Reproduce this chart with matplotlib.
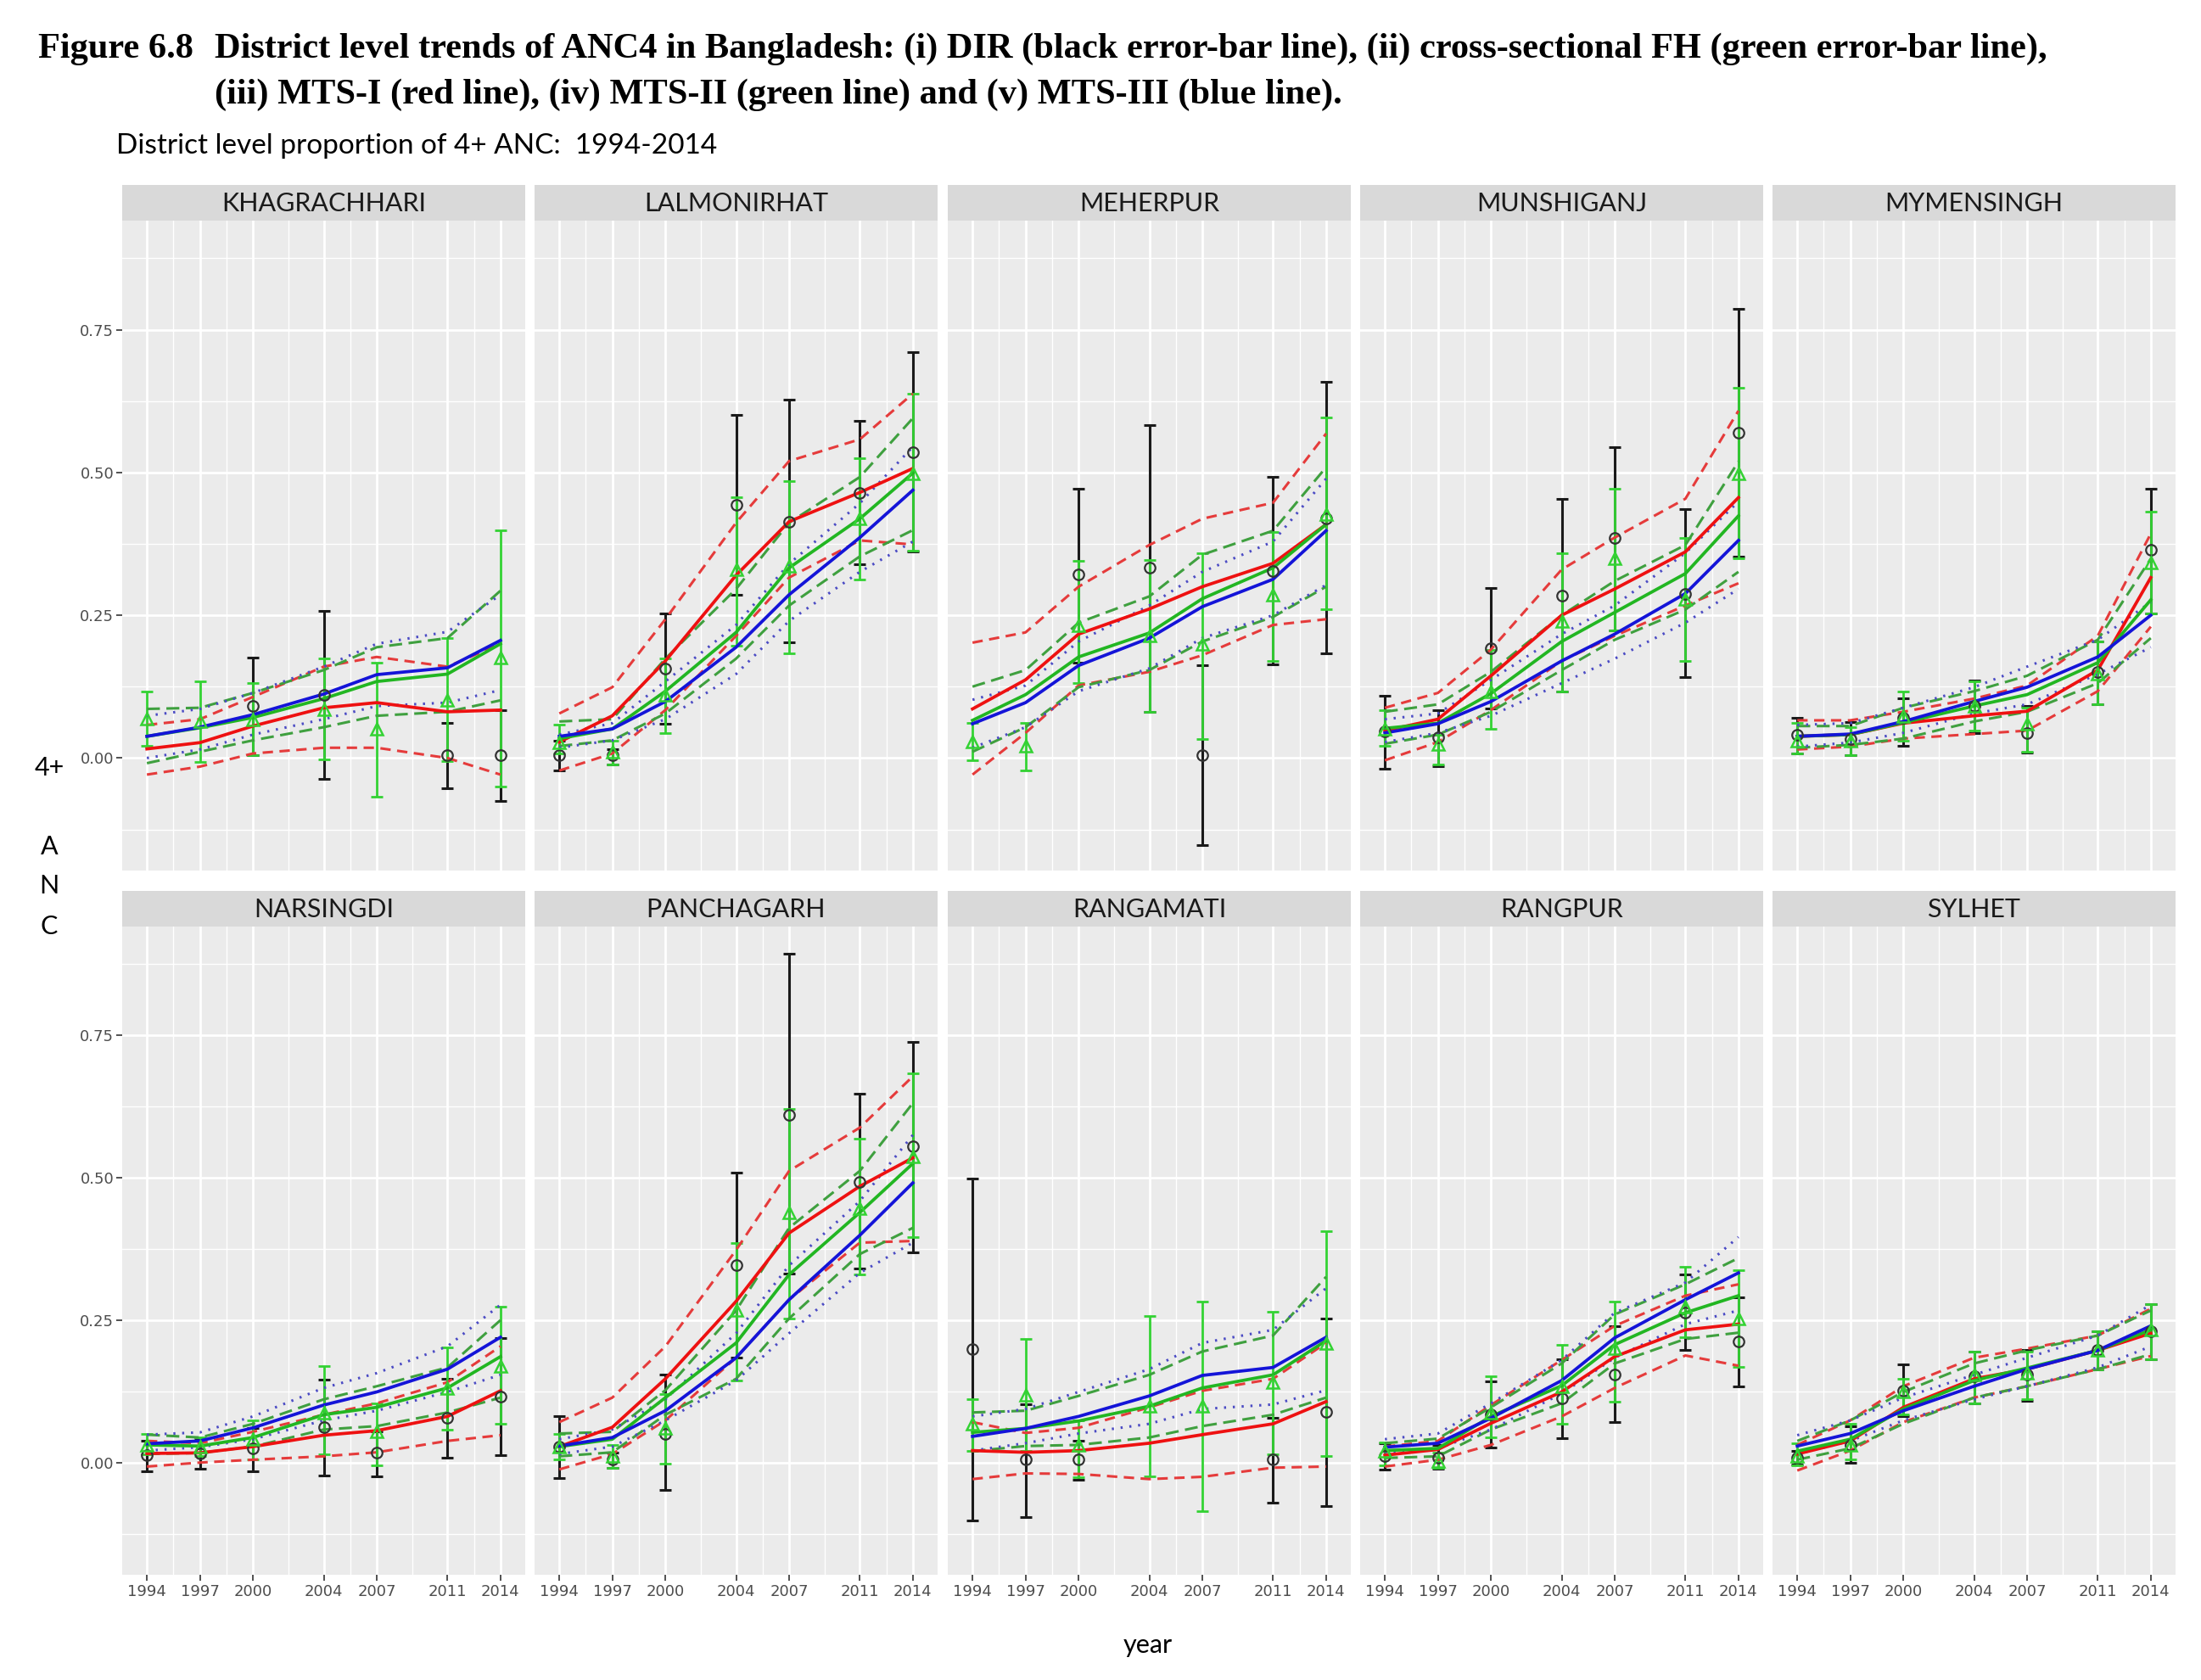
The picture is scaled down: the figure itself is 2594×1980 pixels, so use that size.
import numpy as np
import matplotlib
matplotlib.use("Agg")
import matplotlib.pyplot as plt

nan = np.nan
districts = ["KHAGRACHHARI", "LALMONIRHAT", "MEHERPUR", "MUNSHIGANJ", "MYMENSINGH",
             "NARSINGDI", "PANCHAGARH", "RANGAMATI", "RANGPUR", "SYLHET"]
years = [1994, 1997, 2000, 2004, 2007, 2011, 2014]
year_labels = ["1994", "1997", "2000", "2004", "2007", "2011", "2014"]
y_ticks = [0.0, 0.25, 0.50, 0.75]
y_tick_labels = ["0.00", "0.25", "0.50", "0.75"]

# DIR (black error-bar line)
dir_est = [[nan, nan, 0.091, 0.111, nan, 0.005, 0.005],
           [0.005, 0.005, 0.156, 0.444, 0.414, 0.464, 0.535],
           [nan, nan, 0.321, 0.333, 0.005, 0.328, 0.420],
           [0.046, 0.036, 0.192, 0.285, 0.385, 0.288, 0.570],
           [0.040, 0.033, 0.071, 0.091, 0.044, 0.151, 0.364],
           [0.013, 0.016, 0.025, 0.062, 0.018, 0.079, 0.116],
           [0.028, 0.005, 0.051, 0.346, 0.611, 0.493, 0.555],
           [0.199, 0.005, 0.005, nan, nan, 0.005, 0.089],
           [0.011, 0.008, 0.084, 0.113, 0.155, 0.263, 0.212],
           [0.008, 0.031, 0.126, 0.151, 0.154, 0.197, 0.230]]
dir_lo = [[nan, nan, 0.005, -0.037, nan, -0.053, -0.075],
          [-0.021, -0.012, 0.060, 0.286, 0.202, 0.340, 0.361],
          [nan, nan, 0.167, 0.081, -0.153, 0.164, 0.184],
          [-0.019, -0.015, 0.087, 0.117, 0.223, 0.141, 0.353],
          [0.008, 0.005, 0.021, 0.044, 0.009, 0.094, 0.253],
          [-0.015, -0.011, -0.015, -0.022, -0.024, 0.009, 0.013],
          [-0.027, -0.009, -0.048, 0.184, 0.332, 0.340, 0.369],
          [-0.101, -0.095, -0.030, nan, nan, -0.070, -0.077],
          [-0.013, -0.011, 0.027, 0.043, 0.071, 0.197, 0.134],
          [-0.004, 0.000, 0.081, 0.104, 0.109, 0.164, 0.182]]
dir_hi = [[nan, nan, 0.176, 0.258, nan, 0.062, 0.084],
          [0.030, 0.015, 0.253, 0.601, 0.627, 0.590, 0.711],
          [nan, nan, 0.472, 0.583, 0.162, 0.492, 0.658],
          [0.109, 0.084, 0.298, 0.454, 0.545, 0.436, 0.786],
          [0.070, 0.063, 0.104, 0.136, 0.091, 0.204, 0.472],
          [0.039, 0.041, 0.061, 0.146, 0.054, 0.147, 0.219],
          [0.082, 0.018, 0.154, 0.509, 0.893, 0.647, 0.739],
          [0.499, 0.103, 0.038, nan, nan, 0.079, 0.253],
          [0.034, 0.031, 0.142, 0.182, 0.239, 0.330, 0.290],
          [0.020, 0.064, 0.172, 0.195, 0.197, 0.231, 0.278]]

# cross-sectional FH (green error-bar line)
fh_est = [[0.069, 0.064, 0.068, 0.085, 0.051, 0.102, 0.176],
          [0.028, 0.011, 0.111, 0.330, 0.336, 0.420, 0.499],
          [0.029, 0.021, 0.233, 0.215, 0.199, 0.286, 0.427],
          [0.051, 0.025, 0.117, 0.240, 0.349, 0.278, 0.499],
          [0.031, 0.031, 0.074, 0.091, 0.060, 0.147, 0.343],
          [0.031, 0.028, 0.041, 0.088, 0.054, 0.131, 0.170],
          [0.028, 0.011, 0.060, 0.267, 0.439, 0.446, 0.538],
          [0.068, 0.119, 0.031, 0.100, 0.099, 0.141, 0.210],
          [0.021, 0.003, 0.088, 0.134, 0.200, 0.273, 0.253],
          [0.011, 0.031, 0.124, 0.154, 0.157, 0.197, 0.233]]
fh_lo = [[0.021, -0.007, 0.005, -0.002, -0.068, -0.005, -0.050],
         [0.008, -0.012, 0.044, 0.197, 0.184, 0.313, 0.363],
         [-0.004, -0.021, 0.132, 0.081, 0.034, 0.170, 0.260],
         [0.021, -0.012, 0.051, 0.117, 0.223, 0.170, 0.349],
         [0.008, 0.005, 0.031, 0.048, 0.011, 0.094, 0.253],
         [0.015, 0.011, 0.005, 0.015, -0.005, 0.058, 0.068],
         [0.005, -0.009, -0.002, 0.144, 0.253, 0.330, 0.396],
         [0.021, 0.021, -0.025, -0.024, -0.085, 0.015, 0.011],
         [-0.005, -0.009, 0.044, 0.068, 0.107, 0.220, 0.168],
         [-0.005, 0.005, 0.084, 0.104, 0.111, 0.164, 0.182]]
fh_hi = [[0.116, 0.134, 0.132, 0.174, 0.167, 0.210, 0.398],
         [0.058, 0.031, 0.174, 0.456, 0.485, 0.525, 0.638],
         [0.061, 0.061, 0.345, 0.347, 0.359, 0.396, 0.597],
         [0.084, 0.041, 0.190, 0.359, 0.472, 0.386, 0.649],
         [0.061, 0.054, 0.117, 0.134, 0.088, 0.204, 0.431],
         [0.051, 0.044, 0.074, 0.170, 0.104, 0.202, 0.273],
         [0.051, 0.031, 0.121, 0.386, 0.621, 0.568, 0.683],
         [0.111, 0.217, 0.074, 0.258, 0.283, 0.265, 0.406],
         [0.036, 0.018, 0.151, 0.207, 0.283, 0.343, 0.338],
         [0.034, 0.068, 0.147, 0.195, 0.195, 0.231, 0.278]]

# MTS-I (red)
m1 = [[0.016, 0.027, 0.056, 0.088, 0.097, 0.081, 0.084],
      [0.028, 0.074, 0.170, 0.320, 0.414, 0.465, 0.507],
      [0.086, 0.137, 0.217, 0.261, 0.300, 0.341, 0.409],
      [0.048, 0.068, 0.144, 0.250, 0.296, 0.361, 0.456],
      [0.038, 0.041, 0.061, 0.074, 0.082, 0.154, 0.316],
      [0.016, 0.017, 0.028, 0.048, 0.056, 0.081, 0.126],
      [0.028, 0.062, 0.147, 0.283, 0.403, 0.485, 0.535],
      [0.021, 0.018, 0.021, 0.034, 0.049, 0.068, 0.107],
      [0.013, 0.023, 0.069, 0.124, 0.186, 0.233, 0.243],
      [0.015, 0.038, 0.097, 0.147, 0.164, 0.197, 0.227]]
m1_lo = [[-0.029, -0.015, 0.008, 0.018, 0.018, 0.000, -0.029],
         [-0.022, 0.008, 0.084, 0.214, 0.316, 0.381, 0.374],
         [-0.029, 0.044, 0.127, 0.151, 0.180, 0.233, 0.243],
         [-0.004, 0.028, 0.084, 0.170, 0.214, 0.267, 0.306],
         [0.015, 0.020, 0.034, 0.042, 0.048, 0.117, 0.230],
         [-0.007, 0.000, 0.005, 0.011, 0.018, 0.038, 0.048],
         [-0.012, 0.015, 0.074, 0.184, 0.286, 0.386, 0.389],
         [-0.029, -0.019, -0.020, -0.029, -0.025, -0.009, -0.007],
         [-0.007, 0.005, 0.031, 0.081, 0.131, 0.188, 0.170],
         [-0.014, 0.021, 0.071, 0.114, 0.134, 0.164, 0.187]]
m1_hi = [[0.058, 0.068, 0.107, 0.160, 0.177, 0.160, 0.200],
         [0.078, 0.124, 0.243, 0.412, 0.520, 0.558, 0.638],
         [0.202, 0.220, 0.300, 0.373, 0.419, 0.447, 0.568],
         [0.088, 0.114, 0.190, 0.330, 0.386, 0.454, 0.608],
         [0.066, 0.066, 0.081, 0.104, 0.127, 0.214, 0.393],
         [0.038, 0.034, 0.054, 0.084, 0.104, 0.141, 0.204],
         [0.071, 0.114, 0.204, 0.373, 0.512, 0.588, 0.678],
         [0.071, 0.052, 0.061, 0.097, 0.126, 0.147, 0.210],
         [0.028, 0.038, 0.101, 0.180, 0.240, 0.293, 0.313],
         [0.031, 0.074, 0.134, 0.184, 0.200, 0.223, 0.270]]

# MTS-II (green)
m2 = [[0.038, 0.053, 0.071, 0.104, 0.134, 0.147, 0.200],
      [0.034, 0.051, 0.117, 0.220, 0.333, 0.419, 0.499],
      [0.066, 0.111, 0.177, 0.219, 0.279, 0.333, 0.409],
      [0.052, 0.061, 0.113, 0.204, 0.255, 0.323, 0.424],
      [0.038, 0.041, 0.062, 0.091, 0.111, 0.167, 0.277],
      [0.031, 0.029, 0.044, 0.084, 0.097, 0.131, 0.186],
      [0.028, 0.041, 0.114, 0.210, 0.330, 0.439, 0.525],
      [0.053, 0.060, 0.073, 0.099, 0.131, 0.154, 0.214],
      [0.021, 0.025, 0.081, 0.135, 0.207, 0.263, 0.293],
      [0.020, 0.041, 0.094, 0.144, 0.166, 0.197, 0.233]]
m2_lo = [[-0.009, 0.011, 0.031, 0.054, 0.074, 0.081, 0.101],
         [0.021, 0.031, 0.078, 0.174, 0.267, 0.353, 0.399],
         [0.011, 0.054, 0.124, 0.154, 0.204, 0.247, 0.300],
         [0.025, 0.041, 0.081, 0.154, 0.207, 0.260, 0.326],
         [0.018, 0.023, 0.034, 0.064, 0.081, 0.131, 0.210],
         [0.015, 0.017, 0.028, 0.058, 0.064, 0.088, 0.114],
         [0.011, 0.018, 0.084, 0.147, 0.253, 0.366, 0.412],
         [0.020, 0.029, 0.031, 0.044, 0.064, 0.084, 0.114],
         [0.008, 0.011, 0.058, 0.104, 0.174, 0.217, 0.228],
         [0.005, 0.025, 0.068, 0.114, 0.134, 0.164, 0.190]]
m2_hi = [[0.086, 0.088, 0.114, 0.154, 0.194, 0.210, 0.293],
         [0.064, 0.068, 0.174, 0.296, 0.412, 0.492, 0.595],
         [0.125, 0.154, 0.237, 0.283, 0.356, 0.398, 0.509],
         [0.081, 0.094, 0.151, 0.250, 0.310, 0.373, 0.519],
         [0.056, 0.056, 0.088, 0.117, 0.144, 0.207, 0.349],
         [0.049, 0.044, 0.068, 0.111, 0.134, 0.167, 0.250],
         [0.051, 0.054, 0.127, 0.267, 0.412, 0.512, 0.631],
         [0.088, 0.091, 0.117, 0.154, 0.195, 0.223, 0.326],
         [0.034, 0.042, 0.097, 0.174, 0.260, 0.313, 0.359],
         [0.038, 0.074, 0.124, 0.174, 0.197, 0.223, 0.267]]

# MTS-III (blue)
m3 = [[0.038, 0.054, 0.076, 0.112, 0.146, 0.158, 0.206],
      [0.038, 0.051, 0.099, 0.194, 0.286, 0.386, 0.469],
      [0.060, 0.097, 0.162, 0.210, 0.265, 0.313, 0.398],
      [0.044, 0.060, 0.099, 0.170, 0.217, 0.288, 0.381],
      [0.038, 0.042, 0.064, 0.099, 0.124, 0.177, 0.250],
      [0.033, 0.038, 0.061, 0.101, 0.124, 0.164, 0.220],
      [0.029, 0.044, 0.091, 0.184, 0.286, 0.399, 0.491],
      [0.046, 0.060, 0.081, 0.117, 0.153, 0.167, 0.220],
      [0.027, 0.034, 0.078, 0.144, 0.219, 0.286, 0.333],
      [0.029, 0.051, 0.091, 0.134, 0.164, 0.197, 0.240]]
m3_lo = [[0.000, 0.015, 0.041, 0.068, 0.091, 0.097, 0.119],
         [0.018, 0.031, 0.068, 0.147, 0.240, 0.326, 0.379],
         [0.018, 0.054, 0.117, 0.157, 0.210, 0.250, 0.303],
         [0.028, 0.044, 0.074, 0.131, 0.174, 0.237, 0.296],
         [0.020, 0.027, 0.044, 0.078, 0.094, 0.147, 0.194],
         [0.021, 0.027, 0.041, 0.074, 0.091, 0.124, 0.154],
         [0.015, 0.028, 0.074, 0.144, 0.227, 0.333, 0.386],
         [0.021, 0.034, 0.051, 0.068, 0.094, 0.102, 0.127],
         [0.015, 0.025, 0.058, 0.121, 0.184, 0.243, 0.267],
         [0.015, 0.038, 0.074, 0.111, 0.134, 0.167, 0.204]]
m3_hi = [[0.074, 0.086, 0.114, 0.160, 0.200, 0.221, 0.286],
         [0.041, 0.061, 0.134, 0.233, 0.340, 0.446, 0.545],
         [0.102, 0.127, 0.204, 0.267, 0.326, 0.379, 0.489],
         [0.068, 0.078, 0.137, 0.217, 0.267, 0.359, 0.449],
         [0.058, 0.061, 0.088, 0.124, 0.160, 0.207, 0.273],
         [0.049, 0.053, 0.081, 0.131, 0.157, 0.204, 0.277],
         [0.041, 0.058, 0.111, 0.227, 0.346, 0.459, 0.575],
         [0.081, 0.094, 0.124, 0.164, 0.210, 0.233, 0.306],
         [0.041, 0.051, 0.104, 0.180, 0.263, 0.316, 0.396],
         [0.048, 0.074, 0.114, 0.154, 0.184, 0.223, 0.277]]

W, H = 2594, 1980
fig = plt.figure(figsize=(W / 100, H / 100), dpi=100)
fig.patch.set_facecolor("white")

def frac(x0, y0, w, h):
    return [x0 / W, 1 - (y0 + h) / H, w / W, h / H]

col_x = [144, 630, 1117, 1603, 2089]
panel_w = 475
rows = [(218, 260, 1026), (1050, 1092, 1856)]  # strip top, plot top, plot bottom

RED = "#EE1111"
RED_D = "#E53B3B"
GRN_EB = "#33D233"
GRN = "#22B622"
GRN_D = "#3FA03F"
BLU = "#1414D8"
BLU_D = "#4B4BC4"
TICK_FONT = ["Liberation Sans Narrow", "DejaVu Sans"]

years_a = np.array(years, dtype=float)

for i, name in enumerate(districts):
    r, c = divmod(i, 5)
    st, pt, pb = rows[r]
    x0 = col_x[c]
    # strip
    sax = fig.add_axes(frac(x0, st, panel_w, pt - st))
    sax.set_facecolor("#D9D9D9")
    sax.set_xticks([]); sax.set_yticks([])
    for s in sax.spines.values():
        s.set_visible(False)
    sax.text(0.5, 0.47, name, ha="center", va="center", fontsize=22,
             color="#1A1A1A", family="Lato", transform=sax.transAxes)

    ax = fig.add_axes(frac(x0, pt, panel_w, pb - pt))
    ax.set_facecolor("#EBEBEB")
    for s in ax.spines.values():
        s.set_visible(False)
    ax.set_xlim(1992.6, 2015.4)
    ax.set_ylim(-0.197, 0.941)
    ax.set_xticks(years)
    ax.set_xticks([1995.5, 1998.5, 2002, 2005.5, 2009, 2012.5], minor=True)
    ax.set_yticks(y_ticks)
    ax.set_yticks([-0.125, 0.125, 0.375, 0.625, 0.875], minor=True)
    ax.grid(which="major", color="white", lw=2.0)
    ax.grid(which="minor", color="white", lw=1.0)
    ax.set_axisbelow(True)
    ax.tick_params(which="minor", length=0)
    if c == 0:
        ax.set_yticklabels(y_tick_labels, family=TICK_FONT)
        ax.tick_params(axis="y", which="major", length=5, width=1.2,
                       color="#333333", labelsize=13, labelcolor="#4D4D4D", pad=2)
    else:
        ax.tick_params(axis="y", which="major", length=0, labelleft=False)
    if r == 1:
        ax.set_xticklabels(year_labels, family=TICK_FONT)
        ax.tick_params(axis="x", which="major", length=5, width=1.2,
                       color="#333333", labelsize=13, labelcolor="#4D4D4D", pad=3)
    else:
        ax.tick_params(axis="x", which="major", length=0, labelbottom=False)

    de = np.array(dir_est[i]); dl = np.array(dir_lo[i]); dh = np.array(dir_hi[i])
    ok = np.isfinite(de)
    ax.errorbar(years_a[ok], de[ok], yerr=[de[ok] - dl[ok], dh[ok] - de[ok]],
                fmt="none", ecolor="#1A1A1A", elinewidth=2.2, capsize=5, capthick=2.2, zorder=3)
    fe = np.array(fh_est[i]); fl = np.array(fh_lo[i]); fhh = np.array(fh_hi[i])
    ax.errorbar(years_a, fe, yerr=[fe - fl, fhh - fe], fmt="none", ecolor=GRN_EB,
                elinewidth=2.0, capsize=5, capthick=2.0, zorder=4)

    ax.plot(years_a, m1_lo[i], color=RED_D, lw=2.2, ls=(0, (4, 2.5)), zorder=5)
    ax.plot(years_a, m1_hi[i], color=RED_D, lw=2.2, ls=(0, (4, 2.5)), zorder=5)
    ax.plot(years_a, m2_lo[i], color=GRN_D, lw=2.2, ls=(0, (5, 2.5)), zorder=5)
    ax.plot(years_a, m2_hi[i], color=GRN_D, lw=2.2, ls=(0, (5, 2.5)), zorder=5)
    ax.plot(years_a, m3_lo[i], color=BLU_D, lw=2.2, ls=(0, (0.8, 2.6)), zorder=5)
    ax.plot(years_a, m3_hi[i], color=BLU_D, lw=2.2, ls=(0, (0.8, 2.6)), zorder=5)

    ax.plot(years_a, m1[i], color=RED, lw=2.7, zorder=6)
    ax.plot(years_a, m2[i], color=GRN, lw=2.7, zorder=6)
    ax.plot(years_a, m3[i], color=BLU, lw=2.7, zorder=6)

    ax.plot(years_a[ok], de[ok], ls="none", marker="o", ms=9, mfc="none",
            mec="#333333", mew=1.6, zorder=7)
    ax.plot(years_a, fe, ls="none", marker="^", ms=10, mfc="none",
            mec=GRN_EB, mew=1.8, zorder=7)

# titles
TFS = 30.5
fig.text(45 / W, 1 - 58 / H, "Figure 6.8", family="Liberation Serif", weight="bold",
         fontsize=TFS, va="center", ha="left")
fig.text(253 / W, 1 - 58 / H,
         "District level trends of ANC4 in Bangladesh: (i) DIR (black error-bar line), "
         "(ii) cross-sectional FH (green error-bar line),",
         family="Liberation Serif", weight="bold", fontsize=TFS, va="center", ha="left")
fig.text(253 / W, 1 - 112 / H,
         "(iii) MTS-I (red line), (iv) MTS-II (green line) and (v) MTS-III (blue line).",
         family="Liberation Serif", weight="bold", fontsize=TFS, va="center", ha="left")
fig.text(137 / W, 1 - 172 / H, "District level proportion of 4+ ANC:  1994-2014",
         family="Lato", fontsize=24, va="center", ha="left")

# axis labels ("4+ ANC", one line per part as in the reference)
for txt, yy in [("4+", 905), ("A", 998), ("N", 1044), ("C", 1092)]:
    fig.text(58 / W, 1 - yy / H, txt, family="Lato", fontsize=22,
             va="center", ha="center")
fig.text(1353 / W, 1 - 1939 / H, "year", family="Lato", fontsize=22,
         va="center", ha="center")

fig.savefig("out.png", dpi=100, facecolor="white")
